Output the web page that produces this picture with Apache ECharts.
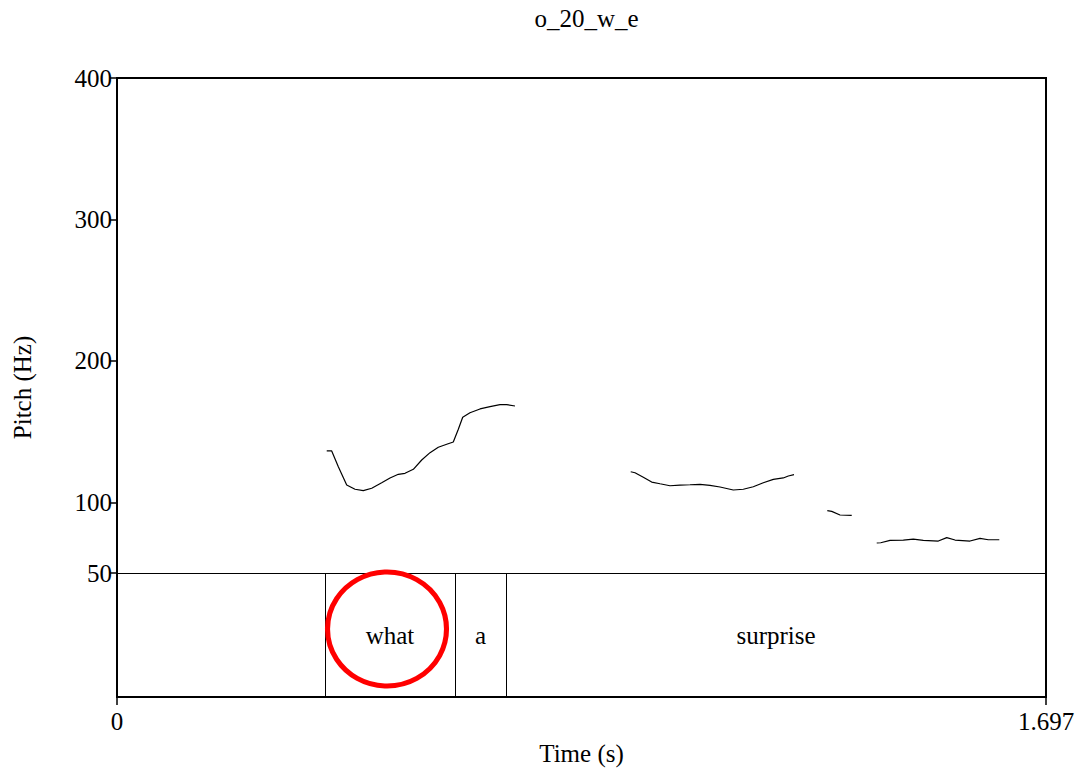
<!DOCTYPE html>
<html>
<head>
<meta charset="utf-8">
<script src="https://cdn.jsdelivr.net/npm/echarts@6/dist/echarts.min.js"></script>
<style>
  html, body { margin: 0; padding: 0; background: #fff; }
  #chart { width: 1080px; height: 769px; }
</style>
</head>
<body>
<div id="chart"></div>
<script>
// Pitch contour pieces, [time (s), F0 (Hz)]
const contourWhatA = [[0.3831,136.3],[0.3922,136.3],[0.4043,125.2],[0.4196,112.2],[0.4348,109.2],[0.4499,108.2],[0.4653,109.9],[0.4835,113.8],[0.4987,117.2],[0.5139,119.8],[0.5261,120.5],[0.5413,123.3],[0.5566,129.9],[0.5718,135.1],[0.5869,138.9],[0.6023,141.0],[0.6143,142.6],[0.6235,151.6],[0.6315,160.1],[0.6448,163.3],[0.6631,166.0],[0.6814,167.6],[0.6996,169.0],[0.7119,169.0],[0.7270,168.1]];
const contourSurprise1 = [[0.9384,121.6],[0.9462,120.9],[0.9614,117.7],[0.9767,114.3],[0.9919,113.1],[1.0101,111.7],[1.0284,112.2],[1.0467,112.4],[1.0650,112.7],[1.0832,112.0],[1.1015,110.8],[1.1258,108.7],[1.1441,109.2],[1.1623,111.0],[1.1806,113.8],[1.1989,116.2],[1.2171,117.2],[1.2263,118.6],[1.2367,119.5]];
const contourSurprise2 = [[1.2975,94.1],[1.3056,93.6],[1.3207,91.0],[1.3421,90.8]];
const contourSurprise3 = [[1.3878,71.2],[1.3951,71.4],[1.4121,73.1],[1.4364,73.3],[1.4546,74.0],[1.4729,73.1],[1.5003,72.6],[1.5157,75.0],[1.5308,73.3],[1.5582,72.6],[1.5765,74.5],[1.5916,73.5],[1.6117,73.5]];

// Word tier intervals
const tierLabels = ['', 'what', 'a', 'surprise'];
const tierStarts = [0, 0.3800, 0.6174, 0.7106];
const tierEnds   = [0.3800, 0.6174, 0.7106, 1.697];

// Axis ranges and tick labels
const timeRange = [0, 1.697];
const pitchRange = [50, 400];
const pitchTicks = [50, 100, 200, 300, 400];
const timeTicks = [0, 1.697];

const titleText = 'o_20_w_e';
const circledWord = 'what';

const FONT = 'Liberation Serif';
const FS = 25;

const L = 117, R = 34, TOP = 78, PLOT_H = 495, TIER_H = 124;

const chart = echarts.init(document.getElementById('chart'), null, { renderer: 'svg' });

const contourSeries = [contourWhatA, contourSurprise1, contourSurprise2, contourSurprise3].map(seg => ({
  type: 'line',
  xAxisIndex: 0,
  yAxisIndex: 0,
  data: seg,
  symbol: 'none',
  smooth: false,
  lineStyle: { color: '#000', width: 1.2 },
  silent: true
}));

const tierData = tierLabels.map((lab, i) => [tierStarts[i], tierEnds[i], lab]);
const circleIdx = tierLabels.indexOf(circledWord);

const textStyle = { fontFamily: FONT, fontSize: FS, fontWeight: 'normal', color: '#000' };

const option = {
  animation: false,
  backgroundColor: '#fff',
  textStyle: { fontFamily: FONT },
  title: {
    text: titleText,
    left: L + (1080 - L - R) / 2,
    top: 1,
    textAlign: 'center',
    textStyle: textStyle
  },
  grid: [
    { left: L, right: R, top: TOP, height: PLOT_H, show: false },
    { left: L, right: R, top: TOP + PLOT_H, height: TIER_H, show: false },
    { left: L, right: R, top: TOP, height: PLOT_H + TIER_H, show: true, borderColor: '#000', borderWidth: 2, backgroundColor: 'transparent' }
  ],
  xAxis: [
    {
      // divider between the pitch panel and the word tier
      gridIndex: 0, type: 'value', min: timeRange[0], max: timeRange[1], position: 'bottom',
      axisLine: { show: true, lineStyle: { color: '#000', width: 1 } },
      axisTick: { show: false }, axisLabel: { show: false }, splitLine: { show: false }
    },
    {
      gridIndex: 1, type: 'value', min: timeRange[0], max: timeRange[1], position: 'bottom',
      axisLine: { show: false },
      splitLine: { show: false },
      axisTick: { show: true, length: 8, customValues: timeTicks, lineStyle: { color: '#000', width: 1.5 } },
      axisLabel: { show: true, customValues: timeTicks, margin: 12, fontFamily: FONT, fontSize: FS, color: '#000',
        formatter: v => String(v) },
      name: 'Time (s)', nameLocation: 'middle', nameGap: 44,
      nameTextStyle: textStyle
    },
    { gridIndex: 2, type: 'value', min: 0, max: 1, show: false }
  ],
  yAxis: [
    {
      gridIndex: 0, type: 'value', min: pitchRange[0], max: pitchRange[1],
      axisLine: { show: false },
      splitLine: { show: false },
      axisTick: { show: true, length: 7, customValues: pitchTicks, lineStyle: { color: '#000', width: 1.5 } },
      axisLabel: { show: true, customValues: pitchTicks, margin: 5, fontFamily: FONT, fontSize: FS, color: '#000' }
    },
    { gridIndex: 1, type: 'value', min: 0, max: 1, show: false },
    {
      gridIndex: 2, type: 'value', min: 0, max: 1,
      axisLine: { show: false }, axisTick: { show: false }, axisLabel: { show: false }, splitLine: { show: false },
      name: 'Pitch (Hz)', nameLocation: 'middle', nameGap: 82,
      nameTextStyle: textStyle
    }
  ],
  series: contourSeries.concat([
    {
      type: 'custom',
      xAxisIndex: 1,
      yAxisIndex: 1,
      data: tierData,
      silent: true,
      renderItem: function (params, api) {
        const s = api.value(0), e = api.value(1);
        const label = tierLabels[params.dataIndex];
        const p0 = api.coord([s, 1]);
        const p1 = api.coord([s, 0]);
        const pe = api.coord([e, 0]);
        const children = [];
        if (s > 0) {
          const x = Math.round(p0[0]) + 0.5;
          children.push({
            type: 'line',
            shape: { x1: x, y1: p0[1], x2: x, y2: p1[1] },
            style: { stroke: '#000', lineWidth: 1 }
          });
        }
        if (label) {
          children.push({
            type: 'text',
            style: {
              text: label,
              x: (p0[0] + pe[0]) / 2,
              y: (p0[1] + p1[1]) / 2,
              align: 'center',
              verticalAlign: 'middle',
              fontFamily: FONT,
              fontSize: FS,
              fill: '#000'
            }
          });
        }
        return { type: 'group', children: children };
      }
    },
    {
      // red ring around the highlighted word
      type: 'scatter',
      xAxisIndex: 1,
      yAxisIndex: 1,
      silent: true,
      z: 10,
      data: [[(tierStarts[circleIdx] + tierEnds[circleIdx]) / 2, 0.5]],
      symbol: 'circle',
      symbolSize: [119, 114],
      symbolOffset: [-3, -6],
      itemStyle: { color: 'rgba(0,0,0,0)', borderColor: '#ff0000', borderWidth: 5, opacity: 1 }
    }
  ])
};

chart.setOption(option);
</script>
</body>
</html>
